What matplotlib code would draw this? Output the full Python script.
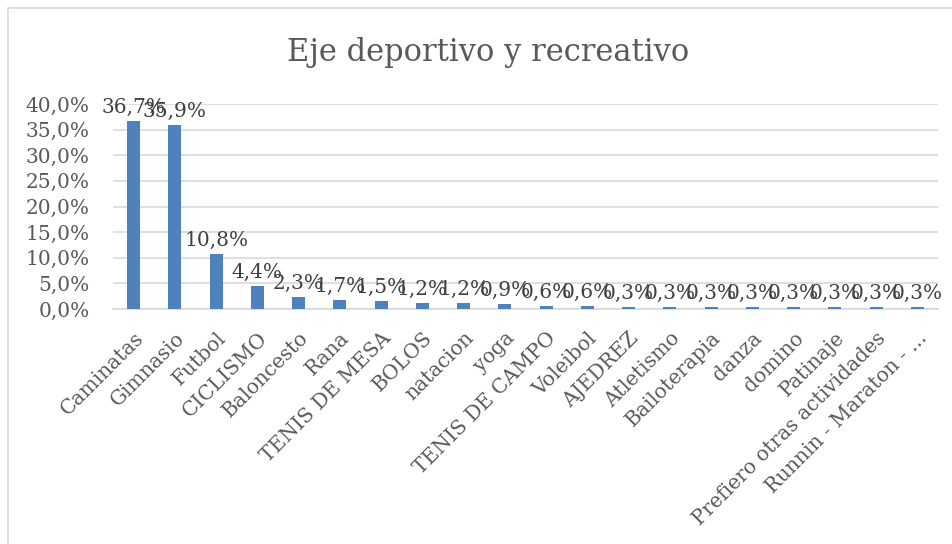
import matplotlib.pyplot as plt
from matplotlib.patches import Rectangle

categorias = ["Caminatas", "Gimnasio", "Futbol", "CICLISMO", "Baloncesto", "Rana",
              "TENIS DE MESA", "BOLOS", "natacion", "yoga", "TENIS DE CAMPO",
              "Voleibol", "AJEDREZ", "Atletismo", "Bailoterapia", "danza", "domino",
              "Patinaje", "Prefiero otras actividades", "Runnin - Maraton - ..."]
valores = [36.7, 35.9, 10.8, 4.4, 2.3, 1.7, 1.5, 1.2, 1.2, 0.9, 0.6,
           0.6, 0.3, 0.3, 0.3, 0.3, 0.3, 0.3, 0.3, 0.3]
ticks_y = [0, 5, 10, 15, 20, 25, 30, 35, 40]

gris = '#595959'
azul = '#4F81BD'
plt.rcParams['font.family'] = ['DejaVu Serif']

fig = plt.figure(figsize=(9.53, 5.44), dpi=100)
fig.patches.append(Rectangle((8 / 953, -0.05), 1.1, 1 - 8 / 544 + 0.05,
                             transform=fig.transFigure, fill=False,
                             edgecolor='#D9D9D9', lw=1.2))
ax = fig.add_axes([113 / 953, 1 - 309 / 544, 825 / 953, 205 / 544])

x = list(range(len(categorias)))
ax.bar(x, valores, width=0.31, color=azul, zorder=3)
for xi, v in zip(x, valores):
    ax.text(xi, v + 0.8, f"{v:.1f}%".replace('.', ','), ha='center', va='bottom',
            fontsize=14.5, color='#404040', zorder=4)

ax.set_xlim(-0.5, len(categorias) - 0.5)
ax.set_ylim(0, 40)
ax.set_yticks(ticks_y)
ax.set_yticklabels([f"{t},0%" for t in ticks_y], fontsize=14.5, color=gris)
ax.yaxis.grid(True, color='#D9D9D9', lw=1.2, zorder=0)
ax.set_xticks(x)
ax.set_xticklabels(categorias, rotation=45, ha='right', rotation_mode='anchor',
                   fontsize=14.5, color=gris)
ax.tick_params(axis='both', length=0)
ax.tick_params(axis='y', pad=17)
ax.tick_params(axis='x', pad=14)
for s in ['top', 'right', 'left']:
    ax.spines[s].set_visible(False)
ax.spines['bottom'].set_color('#D9D9D9')
ax.spines['bottom'].set_linewidth(1.2)

fig.text(488 / 953, 1 - 53 / 544, "Eje deportivo y recreativo", ha='center',
         va='center', fontsize=22, color=gris)

fig.savefig('out.png', dpi=100)
